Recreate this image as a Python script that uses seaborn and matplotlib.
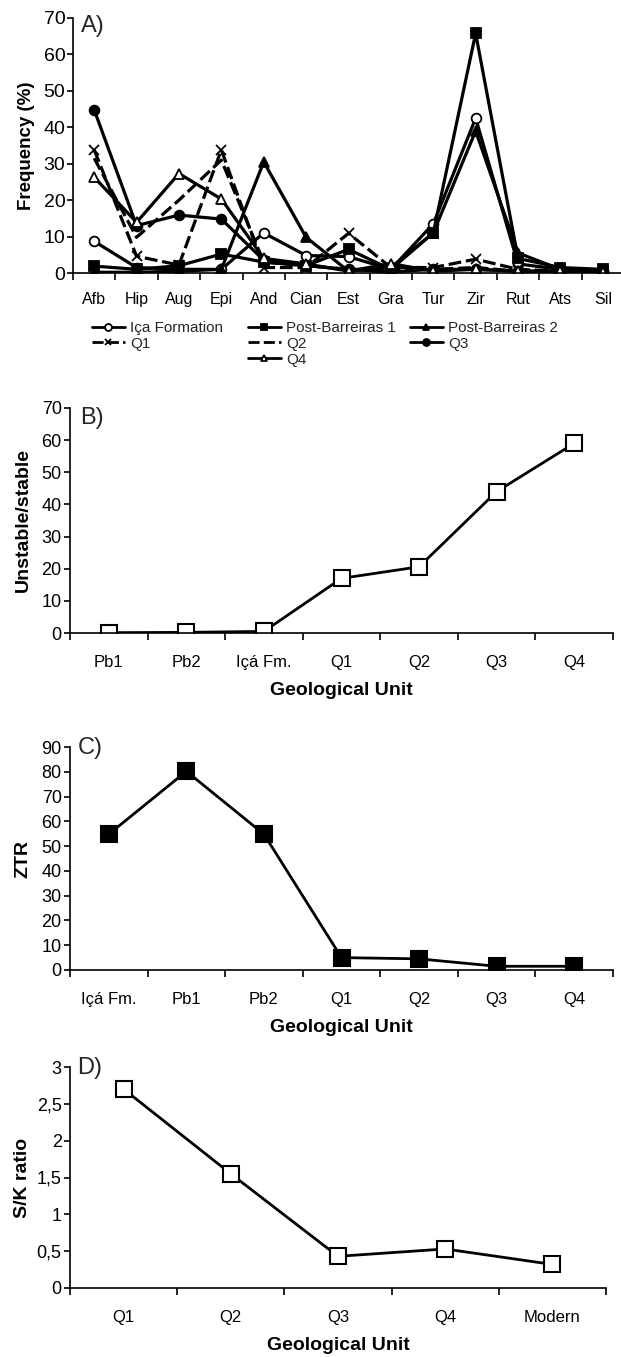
import matplotlib
matplotlib.use("Agg")
import matplotlib.pyplot as plt
import seaborn as sns
import numpy as np
import pandas as pd
from matplotlib.ticker import FixedLocator, NullFormatter, FuncFormatter

sns.set_theme(style="white")
plt.rcParams['font.family'] = ['Liberation Sans', 'DejaVu Sans']

# ---------------- data ----------------
minerals = ["Afb", "Hip", "Aug", "Epi", "And", "Cian", "Est", "Gra", "Tur", "Zir", "Rut", "Ats", "Sil"]
ica = [8.7, 1.5, 1.0, 1.0, 11.0, 4.8, 4.5, 1.0, 13.5, 42.5, 2.5, 1.0, 0.5]
pb1 = [1.9, 1.0, 2.0, 5.2, 3.0, 2.0, 6.5, 1.0, 11.0, 65.8, 4.0, 1.5, 1.0]
pb2 = [0.2, 0.2, 0.5, 1.0, 30.5, 9.8, 0.5, 1.5, 11.0, 39.0, 5.5, 1.0, 0.5]
q1 = [33.8, 4.6, 2.2, 33.8, 1.5, 1.5, 10.9, 1.5, 1.5, 3.8, 1.0, 0.5, 0.3]
q2 = [31.5, 9.8, 20.0, 31.0, 3.0, 2.0, 1.0, 1.0, 1.0, 1.5, 0.5, 0.3, 0.2]
q3 = [44.8, 13.0, 15.9, 14.8, 3.5, 2.0, 1.0, 0.3, 1.0, 1.0, 0.5, 0.5, 0.5]
q4 = [26.3, 13.9, 27.3, 20.3, 4.0, 2.5, 0.5, 2.6, 0.5, 1.0, 0.5, 0.5, 0.3]

units_b = ["Pb1", "Pb2", "Içá Fm.", "Q1", "Q2", "Q3", "Q4"]
unstable_stable = [0.1, 0.2, 0.5, 17.0, 20.6, 44.0, 59.0]

units_c = ["Içá Fm.", "Pb1", "Pb2", "Q1", "Q2", "Q3", "Q4"]
ztr = [54.8, 80.2, 54.8, 5.0, 4.5, 1.5, 1.5]

units_d = ["Q1", "Q2", "Q3", "Q4", "Modern"]
sk_ratio = [2.70, 1.55, 0.43, 0.53, 0.32]

W, H = 621, 1357
fig = plt.figure(figsize=(W / 100, H / 100), dpi=100)


def rect(l, r, t, b):
    return [l / W, 1 - b / H, (r - l) / W, (b - t) / H]


def style_axes(ax, n, ylim, yticks, xfs=12, yfs=13, xpad=15.5, ypad=2):
    for s in ["top", "right"]:
        ax.spines[s].set_visible(False)
    for s in ["left", "bottom"]:
        ax.spines[s].set_color("black")
        ax.spines[s].set_linewidth(1.2)
    ax.set_xlim(-0.5, n - 0.5)
    ax.set_ylim(*ylim)
    ax.set_yticks(yticks)
    ax.xaxis.set_major_locator(FixedLocator(np.arange(n + 1) - 0.5))
    ax.xaxis.set_major_formatter(NullFormatter())
    ax.xaxis.set_minor_locator(FixedLocator(np.arange(n)))
    ax.tick_params(axis="x", which="major", direction="out", length=5, width=1.2,
                   color="black", bottom=True)
    ax.tick_params(axis="x", which="minor", length=0, labelsize=xfs,
                   labelcolor="black", pad=xpad, bottom=True)
    ax.tick_params(axis="y", direction="out", length=4, width=1.2, color="black",
                   left=True, labelsize=yfs, labelcolor="black", pad=ypad)
    ax.grid(False)


def cat_formatter(labels):
    return FuncFormatter(lambda x, p: labels[int(round(x))]
                         if 0 <= int(round(x)) < len(labels) else "")


# ---------------- Panel A ----------------
axA = fig.add_axes(rect(73, 624, 18, 273))
axA.set_facecolor("white")
series = [
    ("Iça Formation", ica, dict(marker="o", markerfacecolor="white", linestyle="-")),
    ("Post-Barreiras 1", pb1, dict(marker="s", markerfacecolor="black", linestyle="-")),
    ("Post-Barreiras 2", pb2, dict(marker="^", markerfacecolor="black", linestyle="-")),
    ("Q1", q1, dict(marker="x", markerfacecolor="black", linestyle=(0, (4, 1.5)))),
    ("Q2", q2, dict(marker="None", linestyle=(0, (4, 1.5)))),
    ("Q3", q3, dict(marker="o", markerfacecolor="black", linestyle="-")),
    ("Q4", q4, dict(marker="^", markerfacecolor="white", linestyle="-")),
]
handles = {}
for name, vals, kw in series:
    df = pd.DataFrame({"mineral": minerals, "v": vals})
    sns.lineplot(data=df, x="mineral", y="v", ax=axA, sort=False, color="black",
                 linewidth=2.3, markersize=7, markeredgecolor="black",
                 markeredgewidth=1.3, label=name, legend=False, **kw)
    handles[name] = axA.lines[-1]

style_axes(axA, len(minerals), (0, 70), np.arange(0, 71, 10), xfs=11.5, yfs=14,
           xpad=14, ypad=1.5)
axA.xaxis.set_minor_formatter(cat_formatter(minerals))
axA.set_xlabel("")
axA.set_ylabel("Frequency (%)", fontsize=13.5, fontweight="bold", color="black", labelpad=6)
axA.text(0.014, 0.97, "A)", transform=axA.transAxes, fontsize=17, va="center", ha="left")

# legend: three separate columns placed like the reference
col_specs = [
    (92, ["Iça Formation", "Q1"]),
    (248, ["Post-Barreiras 1", "Q2", "Q4"]),
    (410, ["Post-Barreiras 2", "Q3"]),
]
for xpos, names in col_specs:
    leg = fig.legend([handles[n] for n in names], names, ncol=1, loc="upper left",
                     bbox_to_anchor=(xpos / W, 1 - 321 / H), frameon=False, fontsize=11,
                     handlelength=2.15, handletextpad=0.35, labelspacing=0.12,
                     borderaxespad=0, borderpad=0)
    for h in leg.legend_handles:
        h.set_markersize(5)
        h.set_linewidth(2.0)

# ---------------- Panel B ----------------
axB = fig.add_axes(rect(70, 613, 408, 633))
axB.set_facecolor("white")
dfb = pd.DataFrame({"unit": units_b, "v": unstable_stable})
sns.lineplot(data=dfb, x="unit", y="v", ax=axB, sort=False, color="black", linewidth=2.0,
             marker="s", markersize=11, markerfacecolor="white", markeredgecolor="black",
             markeredgewidth=1.5)
style_axes(axB, len(units_b), (0, 70), np.arange(0, 71, 10))
axB.xaxis.set_minor_formatter(cat_formatter(units_b))
axB.set_xlabel("Geological Unit", fontsize=14, fontweight="bold", color="black", labelpad=9)
axB.set_ylabel("Unstable/stable", fontsize=14, fontweight="bold", color="black", labelpad=7)
axB.text(0.018, 0.955, "B)", transform=axB.transAxes, fontsize=17, va="center", ha="left")

# ---------------- Panel C ----------------
axC = fig.add_axes(rect(70, 613, 747, 970))
axC.set_facecolor("white")
dfc = pd.DataFrame({"unit": units_c, "v": ztr})
sns.lineplot(data=dfc, x="unit", y="v", ax=axC, sort=False, color="black", linewidth=2.0,
             marker="s", markersize=11, markerfacecolor="black", markeredgecolor="black",
             markeredgewidth=1.5)
style_axes(axC, len(units_c), (0, 90), np.arange(0, 91, 10))
axC.xaxis.set_minor_formatter(cat_formatter(units_c))
axC.set_xlabel("Geological Unit", fontsize=14, fontweight="bold", color="black", labelpad=9)
axC.set_ylabel("ZTR", fontsize=14, fontweight="bold", color="black", labelpad=7)
axC.text(0.014, 0.995, "C)", transform=axC.transAxes, fontsize=17, va="center", ha="left")

# ---------------- Panel D ----------------
axD = fig.add_axes(rect(70, 606, 1067, 1288))
axD.set_facecolor("white")
dfd = pd.DataFrame({"unit": units_d, "v": sk_ratio})
sns.lineplot(data=dfd, x="unit", y="v", ax=axD, sort=False, color="black", linewidth=2.0,
             marker="s", markersize=11, markerfacecolor="white", markeredgecolor="black",
             markeredgewidth=1.5)
style_axes(axD, len(units_d), (0, 3), np.arange(0, 3.01, 0.5))
axD.yaxis.set_major_formatter(FuncFormatter(lambda v, p: ("%g" % v).replace(".", ",")))
axD.xaxis.set_minor_formatter(cat_formatter(units_d))
axD.set_xlabel("Geological Unit", fontsize=14, fontweight="bold", color="black", labelpad=9)
axD.set_ylabel("S/K ratio", fontsize=14, fontweight="bold", color="black", labelpad=4)
axD.text(0.014, 0.995, "D)", transform=axD.transAxes, fontsize=17, va="center", ha="left")

fig.savefig("out.png", dpi=100, facecolor="white")
